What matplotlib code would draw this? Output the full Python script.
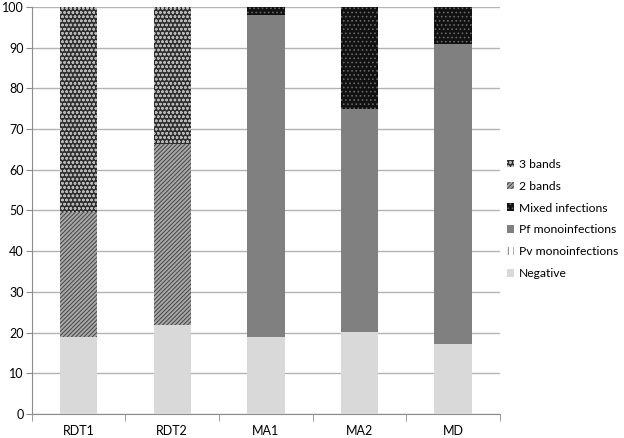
import matplotlib
matplotlib.use("Agg")
import matplotlib.pyplot as plt
import numpy as np

plt.rcParams['font.family'] = ['Lato', 'DejaVu Sans']
plt.rcParams['hatch.linewidth'] = 0.7

categories = ["RDT1", "RDT2", "MA1", "MA2", "MD"]
negative = [19.0, 21.8, 18.8, 20.2, 17.2]
pv_mono = [0, 0, 0, 0, 0]
pf_mono = [0, 0, 79.2, 54.8, 73.8]
mixed = [0, 0, 2.0, 25.0, 9.0]
two_bands = [30.6, 44.6, 0, 0, 0]
three_bands = [50.4, 33.6, 0, 0, 0]

series = [
    ("Negative", negative, dict(facecolor="#d9d9d9", edgecolor="#d9d9d9", hatch=None)),
    ("Pv monoinfections", pv_mono, dict(facecolor="white", edgecolor="#808080", hatch="|||")),
    ("Pf monoinfections", pf_mono, dict(facecolor="#808080", edgecolor="#808080", hatch=None)),
    ("Mixed infections", mixed, dict(facecolor="#111111", edgecolor="#666666", hatch="....")),
    ("2 bands", two_bands, dict(facecolor="#a8a8a8", edgecolor="#444444", hatch="////////")),
    ("3 bands", three_bands, dict(facecolor="#2e2e2e", edgecolor="#b8b8b8", hatch="oooo")),
]

fig = plt.figure(figsize=(6.24, 4.38), dpi=100)
ax = fig.add_axes([0.051, 0.055, 0.75, 0.929])

x = np.arange(len(categories))
bottom = np.zeros(len(categories))
handles = []
for name, vals, st in series:
    vals = np.array(vals, dtype=float)
    b = ax.bar(x, vals, 0.4, bottom=bottom, label=name, linewidth=0,
               zorder=3, **st)
    bottom += vals
    handles.append(b)

ax.set_ylim(0, 100)
ax.set_xlim(-0.5, len(categories) - 0.5)
ax.set_yticks(np.arange(0, 101, 10))
ax.yaxis.grid(True, color="#b3b3b3", linewidth=1, zorder=0)
ax.set_axisbelow(True)
for s in ["top", "right"]:
    ax.spines[s].set_visible(False)
ax.spines["left"].set_color("#8c8c8c")
ax.spines["bottom"].set_color("#8c8c8c")
ax.tick_params(axis="y", length=4, color="#8c8c8c", labelsize=9, pad=2)
ax.set_xticks(x)
ax.set_xticklabels(categories)
ax.set_xticks(np.arange(-0.5, len(categories)), minor=True)
ax.tick_params(axis="x", which="major", length=0, labelsize=9, pad=8)
ax.tick_params(axis="x", which="minor", length=5, color="#8c8c8c")

leg = fig.legend(handles[::-1], [s[0] for s in series][::-1], loc="center left",
                 bbox_to_anchor=(0.812, 0.5), frameon=False, fontsize=8.7,
                 handlelength=0.6, handleheight=0.6, handletextpad=0.4,
                 labelspacing=0.9, borderpad=0, borderaxespad=0)

fig.savefig("out.png", dpi=100)
